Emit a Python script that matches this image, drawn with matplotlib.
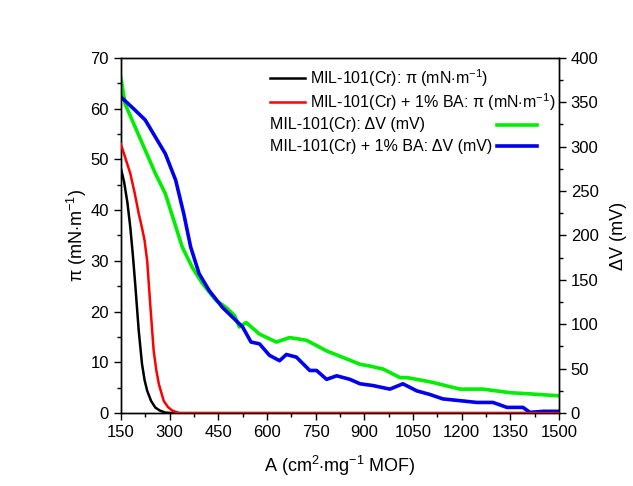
import matplotlib
matplotlib.use('Agg')
import matplotlib.pyplot as plt
from matplotlib.ticker import MultipleLocator

plt.rcParams['font.family'] = ['Liberation Sans', 'DejaVu Sans']
plt.rcParams['mathtext.fontset'] = 'custom'
plt.rcParams['mathtext.rm'] = 'Liberation Sans'
plt.rcParams['mathtext.it'] = 'Liberation Sans:italic'
plt.rcParams['mathtext.sf'] = 'Liberation Sans'

# surface pressure isotherms (left axis, mN/m)
a_black = [150, 160, 170, 179, 187, 194, 205, 215, 223, 231, 243, 256, 270, 287, 310, 400, 800, 1200, 1500]
pi_black = [48.2, 45.5, 41.5, 36.6, 31.0, 25.5, 16.2, 9.7, 6.5, 4.4, 2.4, 1.1, 0.5, 0.1, 0.0, 0.0, 0.0, 0.0, 0.0]

a_red = [150, 165, 179, 192, 205, 215, 223, 231, 241, 251, 259, 267, 282, 295, 308, 330, 400, 800, 1200, 1500]
pi_red = [53.0, 50.0, 47.2, 43.5, 39.3, 36.5, 34.0, 30.0, 20.9, 12.3, 8.5, 5.7, 2.4, 1.2, 0.5, 0.0, 0.0, 0.0, 0.0, 0.0]

# surface potential (right axis, mV)
a_green = [150, 163, 194, 225, 256, 287, 313, 339, 370, 401, 443, 474, 500, 515, 536, 577, 629, 670, 722,
           784, 846, 887, 917, 958, 1010, 1031, 1062, 1112, 1150, 1195, 1266, 1349, 1420, 1500]
dv_green = [377, 348, 322, 296, 270, 247, 217, 187, 164, 146, 127, 119, 110, 97, 102, 89, 80, 85, 82,
            70, 61, 55, 53, 49.6, 40, 40, 38, 34.5, 31, 27, 27, 23, 21.4, 19.5]

a_blue = [150, 194, 225, 256, 287, 319, 344, 365, 391, 422, 463, 494, 525, 551, 577, 608, 639, 660, 691,
          732, 753, 784, 815, 856, 887, 927, 979, 1019, 1062, 1102, 1142, 1195, 1247, 1297, 1340, 1389,
          1411, 1451, 1500]
dv_blue = [356, 341, 330, 311, 292, 262, 224, 187, 157, 138, 119, 108, 97, 80, 78, 65, 59, 66, 63,
           48, 48, 38, 42, 38, 33, 31, 27, 33, 25, 21, 16, 14, 12, 12, 6.4, 6.4,
           0.8, 2, 2]

labels = ['MIL-101(Cr): π (mN$\\cdot$m$^{-1}$)',
          'MIL-101(Cr) + 1% BA: π (mN$\\cdot$m$^{-1}$)',
          'MIL-101(Cr): ΔV (mV)',
          'MIL-101(Cr) + 1% BA: ΔV (mV)']

fig = plt.figure(figsize=(6.33, 4.86), dpi=100)
ax = fig.add_axes([0.191, 0.150, 0.692, 0.731])
ax2 = ax.twinx()

l1, = ax.plot(a_black, pi_black, color='black', linewidth=1.8, zorder=3)
l2, = ax.plot(a_red, pi_red, color='#ff0000', linewidth=1.8, zorder=4)
l3, = ax2.plot(a_green, dv_green, color='#00ee00', linewidth=2.6)
l4, = ax2.plot(a_blue, dv_blue, color='#0000ee', linewidth=2.6)
ax.set_zorder(ax2.get_zorder() + 1)
ax.patch.set_visible(False)

ax.set_xlim(150, 1500)
ax.set_ylim(0, 70)
ax2.set_ylim(0, 400)
ax.set_xticks(range(150, 1501, 150))
ax.xaxis.set_minor_locator(MultipleLocator(75))
ax.yaxis.set_major_locator(MultipleLocator(10))
ax.yaxis.set_minor_locator(MultipleLocator(5))
ax2.yaxis.set_major_locator(MultipleLocator(50))
ax2.yaxis.set_minor_locator(MultipleLocator(25))

for a in (ax, ax2):
    a.tick_params(which='major', direction='out', length=5, width=1, labelsize=12)
    a.tick_params(which='minor', direction='out', length=3, width=1)
    for s in a.spines.values():
        s.set_linewidth(1.0)

ax.set_xlabel('A (cm$^{2}$$\\cdot$mg$^{-1}$ MOF)', fontsize=13, labelpad=10)
ax.set_ylabel('π (mN$\\cdot$m$^{-1}$)', fontsize=13, labelpad=1)
ax2.set_ylabel('ΔV (mV)', fontsize=13, labelpad=8)

# pressure entries: line then text
fig.legend([l1, l2], labels[:2], loc='upper left', bbox_to_anchor=(0.4265, 0.862),
           frameon=False, fontsize=11.5, handlelength=2.2, handletextpad=0.3,
           labelspacing=0.15, borderpad=0, borderaxespad=0)
# potential entries: text then line
fig.legend([l3, l4], ['', ''], loc='upper left', bbox_to_anchor=(0.785, 0.756),
           frameon=False, fontsize=11.5, handlelength=2.5, handletextpad=0,
           labelspacing=0.35, borderpad=0, borderaxespad=0)
fig.text(270 / 633, 1 - 124 / 486, labels[2], fontsize=11.5, va='center')
fig.text(270 / 633, 1 - 146 / 486, labels[3], fontsize=11.5, va='center')

plt.savefig('out.png', dpi=100)
